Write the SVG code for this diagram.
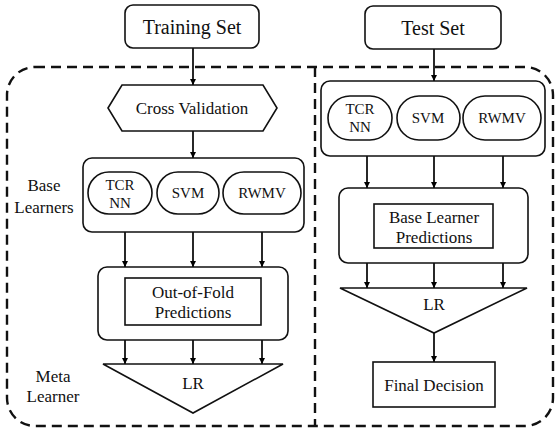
<svg xmlns="http://www.w3.org/2000/svg" width="557" height="432" viewBox="0 0 557 432">
<defs>
<marker id="ah" viewBox="0 0 10 10" refX="10" refY="5" markerWidth="3.3" markerHeight="3.3" orient="auto" markerUnits="strokeWidth">
<path d="M0,0 L10,5 L0,10 z" fill="#000"/>
</marker>
</defs>
<style>
text{font-family:'Times New Roman','Liberation Serif',serif;fill:#111;text-anchor:middle}
.t20{font-size:20px}
.t17{font-size:17px}
.t15{font-size:15px}
.box{fill:#fff;stroke:#111;stroke-width:1.6}
.dash{fill:none;stroke:#111;stroke-width:2.4;stroke-dasharray:10 6}
.arr{fill:none;stroke:#111;stroke-width:1.8;marker-end:url(#ah)}
</style>
<rect width="557" height="432" fill="#fff"/>
<g id="containers">
<rect class="dash" x="7" y="67" width="546" height="359" rx="28"/>
<line class="dash" x1="315" y1="67" x2="315" y2="426"/>
</g>
<g id="connectors">
<line class="arr" x1="193" y1="48" x2="193" y2="85"/>
<line class="arr" x1="193" y1="131" x2="193" y2="158"/>
<line class="arr" x1="125" y1="232" x2="125" y2="267"/>
<line class="arr" x1="193" y1="232" x2="193" y2="267"/>
<line class="arr" x1="262" y1="232" x2="262" y2="267"/>
<line class="arr" x1="125" y1="340" x2="125" y2="364"/>
<line class="arr" x1="193" y1="340" x2="193" y2="364"/>
<line class="arr" x1="262" y1="340" x2="262" y2="364"/>
<line class="arr" x1="434" y1="49" x2="434" y2="81"/>
<line class="arr" x1="367" y1="156" x2="367" y2="188"/>
<line class="arr" x1="434" y1="156" x2="434" y2="188"/>
<line class="arr" x1="503" y1="156" x2="503" y2="188"/>
<line class="arr" x1="367" y1="263" x2="367" y2="288"/>
<line class="arr" x1="434" y1="263" x2="434" y2="288"/>
<line class="arr" x1="503" y1="263" x2="503" y2="288"/>
<line class="arr" x1="434" y1="333" x2="434" y2="362"/>
</g>
<g id="training-set">
<rect class="box" x="125" y="5" width="134" height="43" rx="8"/>
<text class="t20" x="192" y="34">Training Set</text>
</g>
<g id="test-set">
<rect class="box" x="365" y="6" width="136" height="43" rx="8"/>
<text class="t20" x="433" y="35">Test Set</text>
</g>
<g id="cross-validation">
<polygon class="box" points="108,108 122,85 263,85 277,108 263,131 122,131"/>
<text class="t17" x="192" y="114">Cross Validation</text>
</g>
<g id="base-learners-label">
<text class="t17" x="44" y="191">Base</text>
<text class="t17" x="44" y="213">Learners</text>
</g>
<g id="base-learners-train">
<rect class="box" x="83" y="158" width="221" height="74" rx="9"/>
<rect class="box" x="88" y="172" width="64" height="42" rx="21"/>
<text class="t15" x="120" y="190">TCR</text>
<text class="t15" x="120" y="208">NN</text>
<rect class="box" x="157" y="172" width="62" height="42" rx="21"/>
<text class="t15" x="188" y="198">SVM</text>
<rect class="box" x="223" y="172" width="78" height="42" rx="21"/>
<text class="t15" x="262" y="198">RWMV</text>
</g>
<g id="oof-predictions">
<rect class="box" x="98" y="267" width="190" height="73" rx="9"/>
<rect class="box" x="125" y="278" width="136" height="47"/>
<text class="t17" x="193" y="298">Out-of-Fold</text>
<text class="t17" x="193" y="318">Predictions</text>
</g>
<g id="meta-learner-label">
<text class="t17" x="53" y="382">Meta</text>
<text class="t17" x="53" y="402">Learner</text>
</g>
<g id="lr-train">
<polygon class="box" points="103,364 283,364 193,413"/>
<text class="t17" x="193" y="389">LR</text>
</g>
<g id="base-learners-test">
<rect class="box" x="321" y="81" width="224" height="75" rx="9"/>
<rect class="box" x="328" y="96" width="64" height="44" rx="22"/>
<text class="t15" x="360" y="114">TCR</text>
<text class="t15" x="360" y="132">NN</text>
<rect class="box" x="397" y="96" width="63" height="44" rx="22"/>
<text class="t15" x="428" y="123">SVM</text>
<rect class="box" x="463" y="96" width="78" height="44" rx="22"/>
<text class="t15" x="502" y="123">RWMV</text>
</g>
<g id="base-learner-predictions">
<rect class="box" x="339" y="188" width="189" height="75" rx="9"/>
<rect class="box" x="374" y="204" width="119" height="44"/>
<text class="t17" x="434" y="223">Base Learner</text>
<text class="t17" x="434" y="243">Predictions</text>
</g>
<g id="lr-test">
<polygon class="box" points="340,288 527,288 434,333"/>
<text class="t17" x="434" y="310">LR</text>
</g>
<g id="final-decision">
<rect class="box" x="373" y="362" width="122" height="45"/>
<text class="t17" x="434" y="391">Final Decision</text>
</g>
</svg>
